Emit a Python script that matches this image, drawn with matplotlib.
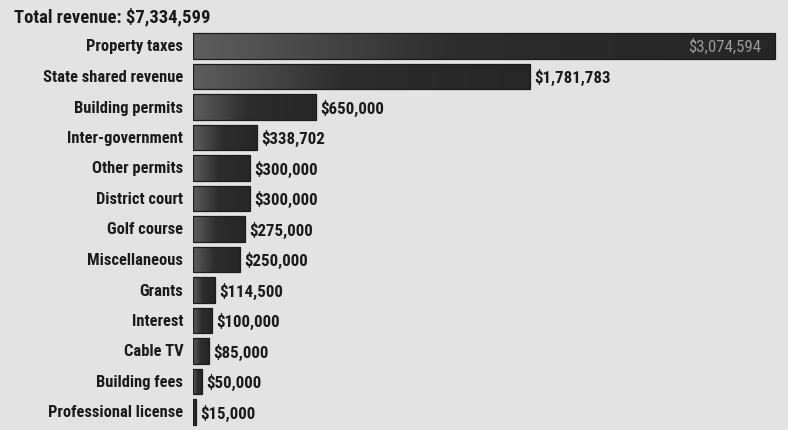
import matplotlib
matplotlib.use("Agg")
import matplotlib.pyplot as plt
import numpy as np
from matplotlib import font_manager
from matplotlib.colors import LinearSegmentedColormap

categories = ["Property taxes", "State shared revenue", "Building permits",
              "Inter-government", "Other permits", "District court",
              "Golf course", "Miscellaneous", "Grants", "Interest",
              "Cable TV", "Building fees", "Professional license"]
values = [3074594, 1781783, 650000, 338702, 300000, 300000, 275000,
          250000, 114500, 100000, 85000, 50000, 15000]
title = "Total revenue: $7,334,599"

# pick a condensed bold face if one is installed
names = {f.name for f in font_manager.fontManager.ttflist}
if "Roboto Condensed" in names:
    fam, stretch, k = "Roboto Condensed", "normal", 1.0
else:
    fam, stretch, k = "DejaVu Sans", "condensed", 0.72

fig = plt.figure(figsize=(7.88, 4.31), dpi=100)
bg = "#e3e3e3"
fig.patch.set_facecolor(bg)
ax = fig.add_axes([193/788, 1-428.25/431, 1-193/788, (428.25-31.75)/431])
ax.set_facecolor(bg)

n = len(categories)
ys = list(range(n))
xmax = values[0] * 595 / 582
bars = ax.barh(ys, values, height=0.82, color="none", edgecolor="#1c1c1c",
               linewidth=0.9, zorder=2)

cmap = LinearSegmentedColormap.from_list(
    "g", [(0.0, "#5e5e5e"), (0.45, "#2c2c2c"), (1.0, "#262626")])
grad = np.linspace(0, 1, 256).reshape(1, -1)
for b, i, v in zip(bars, ys, values):
    im = ax.imshow(grad, cmap=cmap, aspect="auto", interpolation="bilinear",
                   extent=(0, v, i + 0.41, i - 0.41), zorder=1)
    im.set_clip_path(b)
ax.set_ylim(n - 0.5, -0.5)
ax.set_xlim(0, xmax)
ax.axis("off")

cat_fs = 11.9 * k
val_fs = 12.2 * k
tit_fs = 13.4 * k
kw = dict(family=fam, stretch=stretch, fontweight="bold", color="#1a1a1a")

for i, (c, v) in enumerate(zip(categories, values)):
    ax.annotate(c, xy=(0, i), xytext=(-7, 0), textcoords="offset points",
                ha="right", va="center", fontsize=cat_fs, **kw)
    lab = "${:,}".format(v)
    if i == 0:
        ax.annotate(lab, xy=(v, i), xytext=(-10, 0), textcoords="offset points",
                    ha="right", va="center", fontsize=val_fs, family=fam,
                    stretch=stretch, color="#9a9a9a", zorder=5)
    else:
        ax.annotate(lab, xy=(v, i), xytext=(3, 0), textcoords="offset points",
                    ha="left", va="center", fontsize=val_fs, **kw)

fig.text(14/788, 1-17/431, title, ha="left", va="center", fontsize=tit_fs, **kw)

fig.savefig("out.png", dpi=100, facecolor=fig.get_facecolor())
